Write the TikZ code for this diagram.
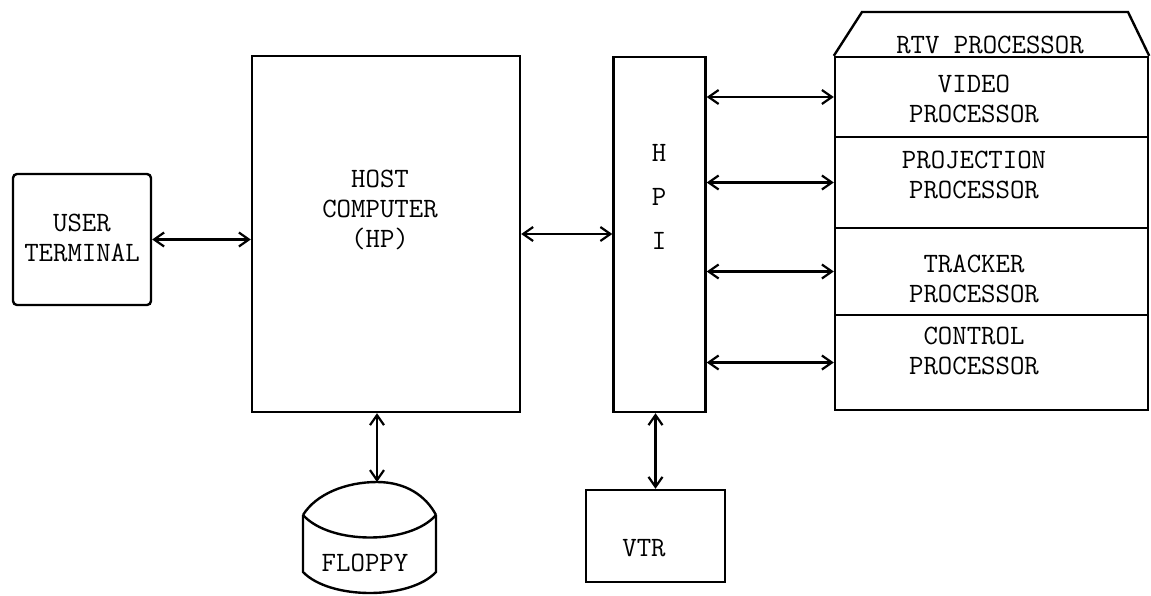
\documentclass[tikz,border=0pt]{standalone}
\usepackage{fontspec}
\usetikzlibrary{arrows.meta}

\begin{document}
\begin{tikzpicture}[
  x=1pt, y=-1pt,
  box/.style={draw,line width=2.4pt,inner sep=0pt},
  lbl/.style={font=\ttfamily\fontsize{28}{30}\selectfont,align=center,inner sep=0pt},
  arr/.style={line width=2.2pt,{Straight Barb[length=10pt,width=14pt]}-{Straight Barb[length=10pt,width=14pt]}},
]
  \useasboundingbox (0,0) rectangle (1151,595);

  % Left: user terminal
  \node[box,rounded corners=4pt,minimum width=138pt,minimum height=131pt] (user) at (82,239.5) {};
  \node[lbl] (usertxt) at (82,237.5) {USER\\TERMINAL};

  % host computer and floppy
  \node[box,minimum width=268pt,minimum height=356pt] (host) at (386,234) {};
  \node[lbl] (hosttxt) at (380,210) {HOST\\COMPUTER\\(HP)};

  \coordinate (flptop) at (377,482);
  \draw[line width=2.4pt] (303,515) .. controls (316,494) and (346,482) .. (flptop)
    .. controls (406,482) and (426,496) .. (436,515);
  \draw[line width=2.4pt] (303,515) .. controls (330,545) and (410,545) .. (436,515);
  \draw[line width=2.4pt] (303,515) -- (303,572) .. controls (330,600) and (410,600) .. (436,572) -- (436,515);
  \node[lbl] (floppy) at (365,563) {FLOPPY};

  % HPI and VTR
  \node[box,minimum width=92pt,minimum height=355pt] (hpi) at (659.5,234.5) {};
  \node[lbl] (hpitxt) at (659,197) {H\\[14pt]P\\[14pt]I};

  \node[box,minimum width=139pt,minimum height=92pt] (vtr) at (655.5,536) {};
  \node[lbl] (vtrtxt) at (644,548) {VTR};

  % Right: RTV processor
  \node[box,minimum width=313pt,minimum height=80pt] (vid) at (991.5,97) {};
  \node[box,minimum width=313pt,minimum height=91pt] (proj) at (991.5,182.5) {};
  \node[box,minimum width=313pt,minimum height=87pt] (trk) at (991.5,271.5) {};
  \node[box,minimum width=313pt,minimum height=95pt] (ctl) at (991.5,362.5) {};
  \draw[line width=2.4pt] (vid.north west) -- (862,12) -- (1128,12) -- (vid.north east);

  \node[lbl] (rtvtxt) at (990,45) {RTV PROCESSOR};
  \node[lbl] (vidtxt) at (974,99) {VIDEO\\PROCESSOR};
  \node[lbl] (projtxt) at (974,175) {PROJECTION\\PROCESSOR};
  \node[lbl] (trktxt) at (974,279) {TRACKER\\PROCESSOR};
  \node[lbl] (ctltxt) at (974,351) {CONTROL\\PROCESSOR};

  % links
  \draw[arr] (user.east) -- (user.east -| host.west);
  \draw[arr] (host.east) -- (host.east -| hpi.west);
  \draw[arr] (host.south -| flptop) -- (flptop);
  \draw[arr] (hpi.south -| vtr.north) -- (vtr.north);
  \draw[arr] (vid.west -| hpi.east) -- (vid.west);
  \draw[arr] (proj.west -| hpi.east) -- (proj.west);
  \draw[arr] (trk.west -| hpi.east) -- (trk.west);
  \draw[arr] (ctl.west -| hpi.east) -- (ctl.west);
\end{tikzpicture}
\end{document}
